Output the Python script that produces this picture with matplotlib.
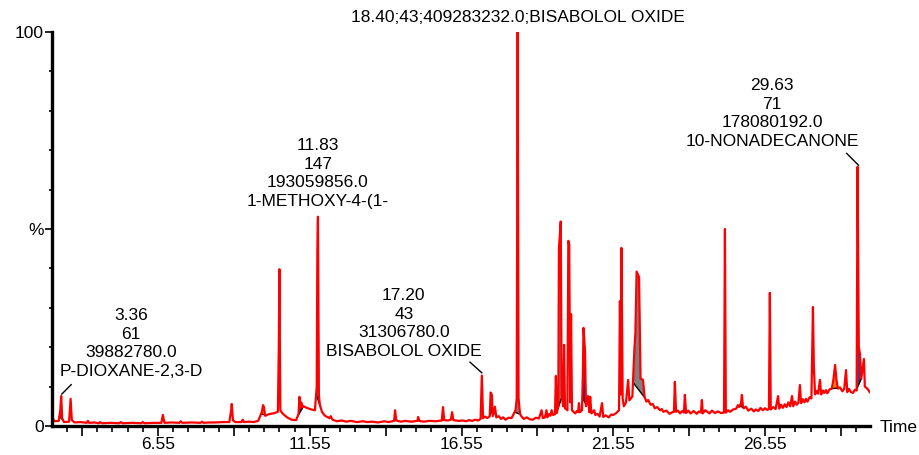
import numpy as np
import matplotlib
matplotlib.use("Agg")
import matplotlib.pyplot as plt
from matplotlib.ticker import MultipleLocator, FixedLocator, FixedFormatter

plt.rcParams["font.family"] = ["Liberation Sans", "DejaVu Sans"]

# chromatogram trace: (retention time in min, relative intensity in %)
trace = [
    (3.08, 1.8), (3.15, 1.2), (3.28, 1.3), (3.33, 4.0), (3.36, 7.6), (3.39, 2.0), (3.45, 1.0),
    (3.62, 1.1), (3.67, 6.9), (3.71, 1.5), (3.80, 0.9), (4.00, 1.0), (4.20, 0.8), (4.24, 1.3),
    (4.28, 0.8), (4.45, 0.9), (4.60, 0.7), (4.64, 1.0), (4.70, 0.7), (5.00, 0.8), (5.28, 0.7),
    (5.32, 1.0), (5.38, 0.7), (5.70, 0.8), (6.00, 0.7), (6.05, 1.0), (6.10, 0.7), (6.40, 0.8),
    (6.66, 0.8), (6.71, 2.8), (6.76, 0.8), (7.00, 0.9), (7.25, 0.8), (7.30, 1.2), (7.35, 0.8),
    (7.65, 0.9), (7.95, 0.8), (8.00, 1.1), (8.05, 0.8), (8.25, 0.9), (8.45, 0.9), (8.70, 1.0),
    (8.90, 1.0), (8.96, 4.0), (8.98, 5.6), (9.02, 1.4), (9.10, 1.0), (9.30, 1.0), (9.34, 1.6),
    (9.38, 1.0), (9.55, 1.1), (9.70, 1.0), (9.85, 1.3), (9.97, 3.5), (10.01, 5.3), (10.04, 4.8),
    (10.08, 2.6), (10.20, 3.0), (10.35, 3.2), (10.50, 3.6), (10.53, 20.0), (10.55, 39.8),
    (10.58, 4.0), (10.65, 3.2), (10.80, 2.2), (10.95, 1.6), (11.10, 1.5), (11.18, 3.0),
    (11.21, 7.4), (11.24, 4.5), (11.27, 6.0), (11.31, 4.8), (11.35, 5.0), (11.45, 4.6),
    (11.60, 4.2), (11.72, 4.0), (11.78, 10.0), (11.80, 44.0), (11.82, 53.1), (11.85, 8.0),
    (11.88, 5.5), (11.95, 3.6), (12.05, 2.6), (12.20, 2.0), (12.24, 2.5), (12.30, 1.6),
    (12.45, 1.2), (12.60, 1.4), (12.75, 1.1), (12.90, 1.3), (13.10, 1.0), (13.30, 1.2),
    (13.45, 1.0), (13.60, 1.1), (13.80, 0.9), (14.00, 1.2), (14.15, 1.0), (14.33, 1.3),
    (14.36, 4.0), (14.40, 1.4), (14.55, 1.1), (14.70, 1.3), (14.90, 1.1), (15.10, 1.3),
    (15.12, 2.3), (15.16, 1.3), (15.30, 1.1), (15.50, 1.3), (15.70, 1.2), (15.90, 1.4),
    (15.94, 4.8), (15.98, 1.5), (16.10, 1.4), (16.20, 1.6), (16.24, 3.5), (16.28, 1.5),
    (16.45, 1.3), (16.60, 1.4), (16.70, 1.2), (16.80, 1.5), (16.90, 1.3), (17.00, 1.6),
    (17.10, 1.4), (17.18, 1.8), (17.22, 12.8), (17.26, 2.0), (17.33, 2.4), (17.40, 2.0),
    (17.48, 2.5), (17.51, 8.5), (17.55, 7.9), (17.58, 2.5), (17.65, 4.9), (17.70, 2.2),
    (17.78, 2.5), (17.85, 1.8), (17.92, 2.2), (18.00, 1.6), (18.10, 2.1), (18.20, 2.0),
    (18.33, 4.0), (18.37, 7.0), (18.40, 100.0), (18.43, 7.0), (18.48, 3.0), (18.54, 2.3),
    (18.60, 1.8), (18.70, 2.2), (18.80, 1.7), (18.90, 1.6), (19.00, 2.1), (19.10, 1.9),
    (19.19, 4.0), (19.23, 2.0), (19.30, 2.2), (19.35, 4.0), (19.38, 2.2), (19.43, 3.0),
    (19.48, 2.6), (19.52, 4.0), (19.56, 2.8), (19.63, 3.0), (19.66, 12.7), (19.69, 3.3),
    (19.74, 5.0), (19.76, 45.0), (19.82, 51.9), (19.85, 8.0), (19.90, 5.0), (19.93, 20.6),
    (19.96, 4.5), (20.04, 4.0), (20.07, 47.0), (20.10, 46.0), (20.13, 6.0), (20.16, 28.4),
    (20.19, 4.0), (20.24, 3.6), (20.30, 3.2), (20.35, 3.8), (20.39, 3.5), (20.42, 5.8),
    (20.45, 3.5), (20.52, 4.0), (20.55, 13.5), (20.57, 24.9), (20.62, 19.0), (20.65, 5.0),
    (20.72, 7.6), (20.76, 3.5), (20.79, 7.4), (20.83, 3.2), (20.88, 3.6), (20.92, 4.0),
    (20.96, 2.8), (21.03, 3.1), (21.10, 2.4), (21.18, 5.8), (21.22, 2.3), (21.30, 2.7),
    (21.40, 2.2), (21.48, 2.9), (21.55, 2.8), (21.65, 3.3), (21.74, 4.0), (21.77, 31.7),
    (21.80, 8.0), (21.82, 45.2), (21.86, 7.0), (21.90, 5.0), (21.97, 6.0), (22.04, 11.7),
    (22.08, 6.5), (22.18, 7.5), (22.25, 20.0), (22.28, 23.6), (22.32, 39.2), (22.40, 37.8),
    (22.45, 12.0), (22.53, 11.7), (22.58, 7.5), (22.64, 6.2), (22.70, 6.6), (22.78, 5.4),
    (22.85, 5.6), (22.92, 4.5), (23.00, 4.8), (23.09, 4.0), (23.15, 4.3), (23.20, 3.6),
    (23.30, 3.9), (23.40, 3.1), (23.50, 3.5), (23.55, 3.6), (23.58, 11.2), (23.62, 3.6),
    (23.68, 3.9), (23.75, 3.2), (23.82, 3.8), (23.88, 3.4), (23.91, 7.9), (23.95, 3.3),
    (24.02, 3.9), (24.10, 3.2), (24.20, 3.8), (24.30, 3.1), (24.37, 3.7), (24.44, 3.4),
    (24.47, 6.6), (24.50, 3.2), (24.58, 4.0), (24.65, 3.6), (24.72, 3.2), (24.80, 3.9),
    (24.90, 3.3), (25.00, 3.7), (25.10, 3.3), (25.20, 3.4), (25.23, 50.0), (25.26, 3.4),
    (25.33, 4.0), (25.40, 3.6), (25.50, 4.2), (25.60, 4.4), (25.66, 5.3), (25.70, 4.8),
    (25.76, 5.8), (25.79, 7.9), (25.82, 5.2), (25.85, 4.5), (25.92, 4.9), (26.00, 3.9),
    (26.10, 4.4), (26.18, 3.7), (26.25, 4.2), (26.33, 3.8), (26.40, 4.6), (26.48, 4.0),
    (26.55, 4.5), (26.62, 4.1), (26.68, 4.3), (26.71, 33.8), (26.74, 4.2), (26.82, 4.8),
    (26.90, 4.3), (26.98, 7.6), (27.02, 4.4), (27.08, 5.4), (27.14, 4.6), (27.20, 5.5),
    (27.26, 4.8), (27.32, 6.0), (27.38, 5.0), (27.44, 7.6), (27.48, 5.0), (27.54, 6.2),
    (27.60, 5.4), (27.65, 5.9), (27.70, 10.4), (27.74, 5.8), (27.80, 6.8), (27.85, 6.0),
    (27.90, 6.9), (27.95, 6.2), (28.02, 7.3), (28.08, 7.0), (28.13, 30.2), (28.16, 15.0),
    (28.20, 8.0), (28.26, 8.9), (28.30, 8.2), (28.36, 11.7), (28.40, 8.0), (28.46, 9.0),
    (28.50, 8.4), (28.56, 9.1), (28.60, 8.3), (28.68, 9.3), (28.75, 9.5), (28.80, 11.5),
    (28.86, 15.5), (28.90, 12.0), (28.95, 9.5), (29.02, 9.8), (29.10, 8.8), (29.16, 9.4),
    (29.22, 14.2), (29.26, 8.6), (29.32, 9.4), (29.38, 8.6), (29.45, 8.4), (29.51, 9.2),
    (29.57, 9.0), (29.60, 65.8), (29.64, 20.0), (29.68, 18.3), (29.72, 12.0), (29.81, 17.0),
    (29.84, 10.0), (29.92, 9.5), (30.00, 8.6),
]

# integrated peak windows (start, end, fill colour)
peak_start = [3.30, 9.95, 11.16, 11.76, 15.90, 17.48, 17.62, 18.30, 19.72, 20.05,
              20.53, 22.20, 25.72, 28.75, 29.55]
peak_end = [3.42, 10.10, 11.33, 11.90, 15.98, 17.57, 17.70, 18.48, 19.86, 20.12,
            20.66, 22.60, 25.86, 28.98, 29.72]
peak_color = ["#1a1a80", "#ff8c00", "#1a1a80", "#2a7f7f", "#ff8c00", "#1a1a80", "#2a7f7f",
              "#808080", "#808080", "#ff8c00", "#1a1a80", "#808080", "#202020", "#ff8c00",
              "#4b3a8a"]

# annotated peaks
ann_text = ["3.36\n61\n39882780.0\nP-DIOXANE-2,3-D",
            "11.83\n147\n193059856.0\n1-METHOXY-4-(1-",
            "17.20\n43\n31306780.0\nBISABOLOL OXIDE",
            "18.40;43;409283232.0;BISABOLOL OXIDE",
            "29.63\n71\n178080192.0\n10-NONADECANONE"]
ann_pos = [(5.66, 20.9), (11.82, 64.1), (14.65, 26.0), (18.40, 103.6), (26.78, 79.3)]
leaders = [((3.38, 8.1), (3.69, 10.5)), ((17.22, 13.5), (16.83, 16.2)),
           ((29.63, 66.2), (29.24, 69.2))]

x_labels = ["", "6.55", "", "11.55", "", "16.55", "", "21.55", "", "26.55", ""]

rt_a = np.array([p[0] for p in trace])
inten_a = np.array([p[1] for p in trace])

fig = plt.figure(figsize=(9.19, 4.55), dpi=100)
ax = fig.add_axes([52 / 919, 29 / 455, 818 / 919, 394 / 455])

# integrated areas under the trace
for a, b, c in zip(peak_start, peak_end, peak_color):
    ya = np.interp(a, rt_a, inten_a)
    yb = np.interp(b, rt_a, inten_a)
    m = (rt_a >= a) & (rt_a <= b)
    xs = np.concatenate([[a], rt_a[m], [b]])
    ys = np.concatenate([[ya], inten_a[m], [yb]])
    base = np.interp(xs, [a, b], [ya, yb])
    ax.fill_between(xs, ys, base, color=c, lw=0)
    ax.plot([a, b], [ya, yb], color="black", lw=1)

ax.plot(rt_a, inten_a, color="#ff0000", lw=1.6)

for txt, (x, y) in zip(ann_text, ann_pos):
    ax.text(x, y, txt, ha="center", va="center", fontsize=12.5, linespacing=1.3,
            clip_on=False)
for (p0, p1) in leaders:
    ax.plot([p0[0], p1[0]], [p0[1], p1[1]], color="black", lw=1, clip_on=False)

ax.set_xlim(3.057, 30.01)
ax.set_ylim(0, 100)

for s in ["top", "right"]:
    ax.spines[s].set_visible(False)
for s in ["left", "bottom"]:
    ax.spines[s].set_linewidth(2.4)

ax.xaxis.set_major_locator(FixedLocator([4.05 + 2.5 * i for i in range(11)]))
ax.xaxis.set_major_formatter(FixedFormatter(x_labels))
ax.xaxis.set_minor_locator(MultipleLocator(0.5, offset=0.05))
ax.yaxis.set_major_locator(FixedLocator([0, 50, 100]))
ax.yaxis.set_major_formatter(FixedFormatter(["0", "%", "100"]))
ax.yaxis.set_minor_locator(MultipleLocator(10))

ax.tick_params(axis="x", which="major", length=7, width=1.2, labelsize=12.5, pad=1)
ax.tick_params(axis="x", which="minor", length=4, width=1.2)
ax.tick_params(axis="y", which="major", length=5, width=1.2, labelsize=12.5, pad=1)
ax.tick_params(axis="y", which="minor", length=2.5, width=1.2)

fig.text(880 / 919, 1 - 428 / 455, "Time", ha="left", va="center", fontsize=12.5)

fig.savefig("out.png", dpi=100)
